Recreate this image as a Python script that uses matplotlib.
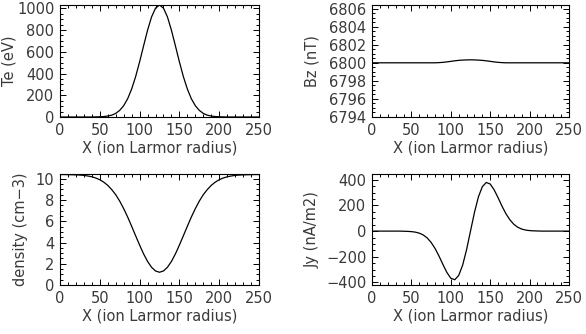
import numpy as np
import matplotlib.pyplot as plt
from matplotlib.ticker import MultipleLocator

# x grid (ion Larmor radius), read every 5 units
x = np.arange(0, 255, 5)

# left halves (x = 0..120), the profiles are mirrored about x = 125
te_half = [0, 0, 0, 0, 0, 0, 0, 0, 0, 1, 2, 4, 9, 17, 33, 61, 104, 168, 257, 371,
           507, 654, 798, 920, 1001]
te = te_half + [1030] + te_half[::-1]

dens_half = [10.40, 10.40, 10.39, 10.38, 10.37, 10.35, 10.32, 10.26, 10.19, 10.07,
             9.91, 9.68, 9.38, 8.98, 8.50, 7.90, 7.19, 6.40, 5.53, 4.64,
             3.76, 2.93, 2.22, 1.67, 1.32]
dens = dens_half + [1.20] + dens_half[::-1]

bz_half = [6800.0] * 17 + [6800.02, 6800.05, 6800.10, 6800.16, 6800.22, 6800.27,
                           6800.30, 6800.32]
bz = bz_half + [6800.33] + bz_half[::-1]

jy_half = [0, 0, 0, 0, 0, 0, 0, 0, 1, 2, 4, 8, 16, 30, 53, 88, 135, 194, 260,
           322, 367, 379, 346, 266, 145]
jy = [-v for v in jy_half] + [0] + jy_half[::-1]

txt = '#3a3a3a'
plt.rcParams['font.family'] = 'DejaVu Sans'
plt.rcParams['font.size'] = 10.5

fig = plt.figure(figsize=(5.86, 3.34), dpi=100)
W, H = 586.0, 334.0

def mkax(x0, y0, x1, y1):
    return fig.add_axes([x0 / W, 1 - y1 / H, (x1 - x0) / W, (y1 - y0) / H])

panels = [
    (mkax(60, 5, 259, 117), te, 'Te (eV)', (0, 1030), 200, 50, -0.218),
    (mkax(372, 5, 569, 117), bz, 'Bz (nT)', (6794, 6806.4), 2, 0.5, -0.264),
    (mkax(60, 174, 259, 285), dens, 'density (cm\u22123)', (0, 10.45), 2, 0.5, -0.16),
    (mkax(372, 174, 569, 285), jy, 'Jy (nA/m2)', (-420, 445), 200, 50, -0.264),
]

for ax, y, lab, yl, maj, mnr, lx in panels:
    ax.plot(x, y, color='black', lw=0.9)
    ax.set_xlim(0, 250)
    ax.set_ylim(*yl)
    ax.xaxis.set_major_locator(MultipleLocator(50))
    ax.xaxis.set_minor_locator(MultipleLocator(10))
    ax.yaxis.set_major_locator(MultipleLocator(maj))
    ax.yaxis.set_minor_locator(MultipleLocator(mnr))
    ax.tick_params(which='both', direction='in', top=True, right=True,
                   colors='black', labelcolor=txt, width=0.7)
    ax.tick_params(which='major', length=4, pad=4)
    ax.tick_params(which='minor', length=2)
    ax.set_xlabel('X (ion Larmor radius)', color=txt, labelpad=2)
    ax.set_ylabel(lab, color=txt)
    ax.yaxis.set_label_coords(lx, 0.5)
    for s in ax.spines.values():
        s.set_linewidth(0.8)
    ax.yaxis.set_major_formatter(plt.FuncFormatter(
        lambda v, p: ('%d' % round(v)).replace('-', '\u2212')))

fig.savefig('out.png', dpi=100)
